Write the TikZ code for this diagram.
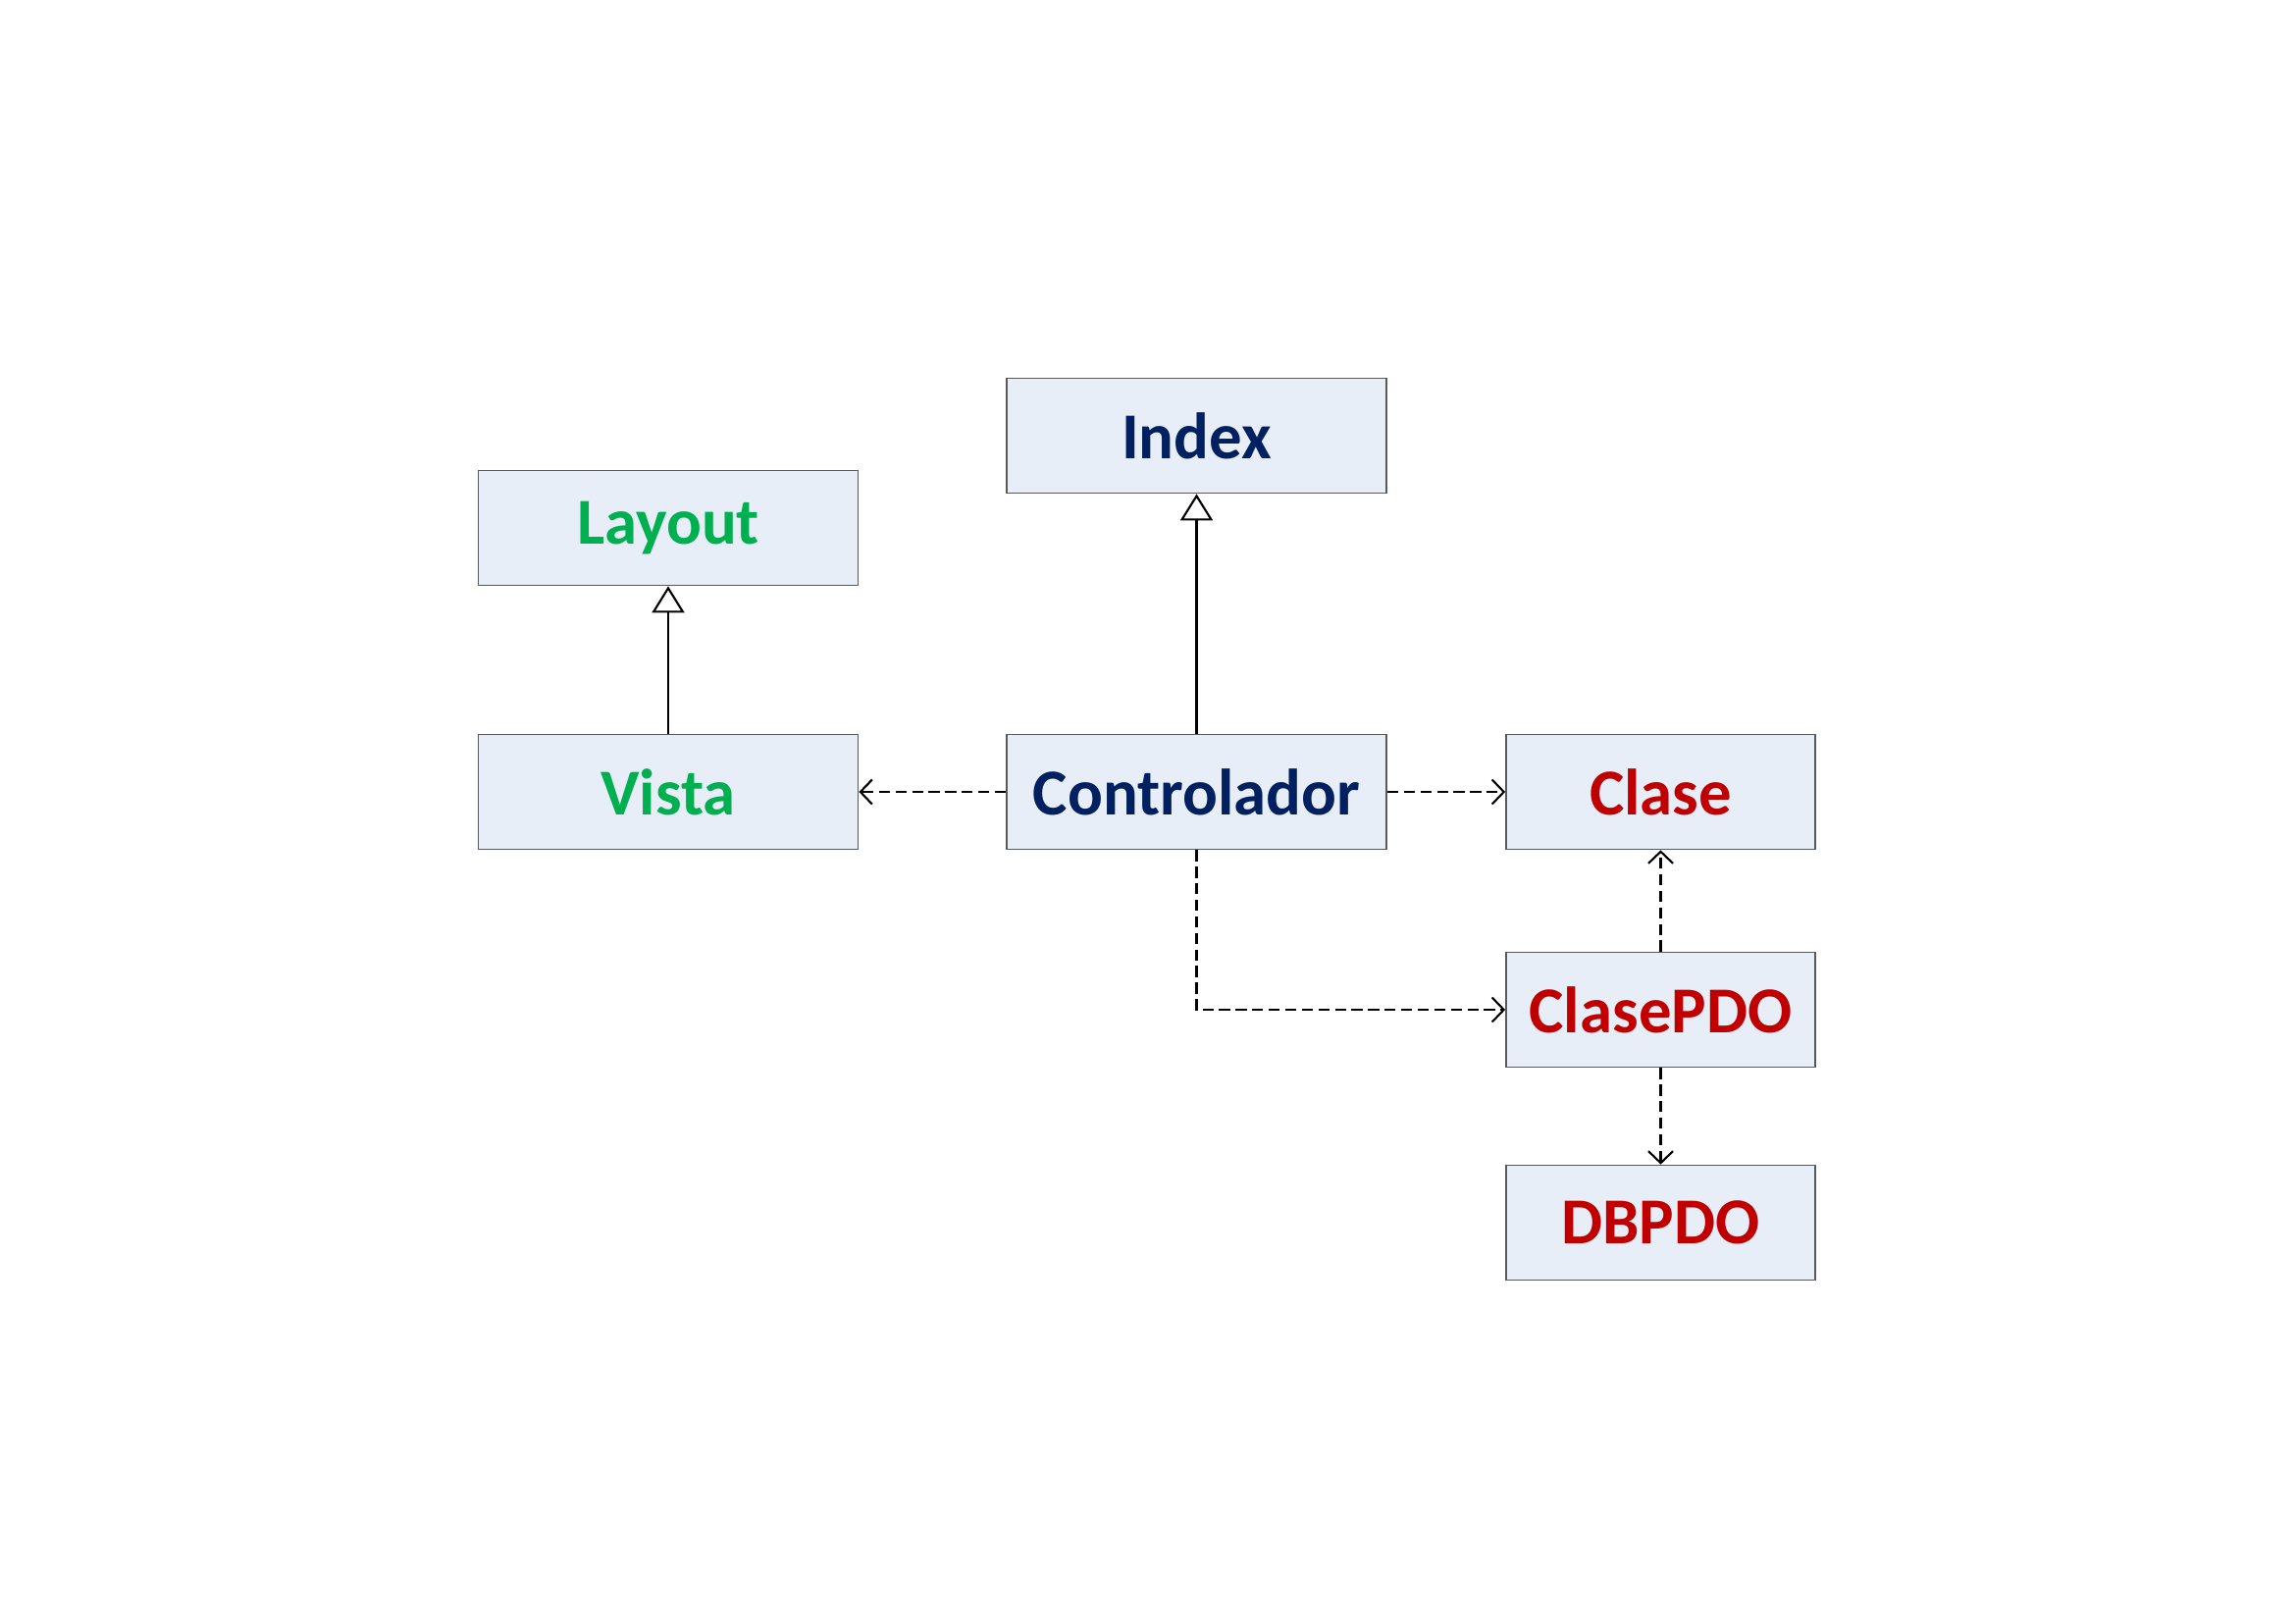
\documentclass[tikz,border=0pt]{standalone}
\usepackage{fontspec}
\setmainfont{Carlito}
\usepackage{xcolor}
\usetikzlibrary{arrows.meta,positioning}
\definecolor{boxfill}{RGB}{232,238,247}
\definecolor{boxline}{RGB}{89,89,89}
\definecolor{navy}{RGB}{0,32,96}
\definecolor{vgreen}{RGB}{0,176,80}
\definecolor{dred}{RGB}{192,0,0}

\begin{document}
\begin{tikzpicture}
	\tikzstyle{every node} = [rectangle, draw = boxline, fill = boxfill, line width = 0.5pt, minimum height = 1.17cm, inner sep = 0pt, font = \fontsize{19}{23}\selectfont\bfseries]
	\tikzstyle{wide} = [minimum width = 3.87cm]
	\tikzstyle{narrow} = [minimum width = 3.15cm]
	\tikzstyle{inherit} = [-{Triangle[open, length = 0.27cm, width = 0.33cm]}, line width = 0.6pt]
	\tikzstyle{uses} = [-{Straight Barb[length = 0.12cm, width = 0.25cm]}, dash pattern = on 3.2pt off 1.6pt, line width = 0.6pt]
\useasboundingbox (0, 0) rectangle (23.39, -16.54);
\node[wide, text = navy] (index) at (12.195, -4.44) {Index};
\node[wide, text = vgreen] (layout) at (6.81, -5.38) {Layout};
\node[wide, text = vgreen] (vista) at (6.81, -8.07) {Vista};
\node[wide, text = navy] (ctrl) at (12.195, -8.07) {Controlador};
\node[narrow, text = dred] (clase) at (16.925, -8.07) {Clase};
\node[narrow, text = dred] (pdo) at (16.925, -10.29) {ClasePDO};
\node[narrow, text = dred] (db) at (16.925, -12.46) {DBPDO};
	\path[draw, inherit] (vista) -- (layout);
	\path[draw, inherit] (ctrl) -- (index);
	\path[draw, uses] (ctrl) -- (vista);
	\path[draw, uses] (ctrl) -- (clase);
	\path[draw, uses] (ctrl) |- (pdo);
	\path[draw, uses] (pdo) -- (clase);
	\path[draw, uses] (pdo) -- (db);
\end{tikzpicture}
\end{document}
